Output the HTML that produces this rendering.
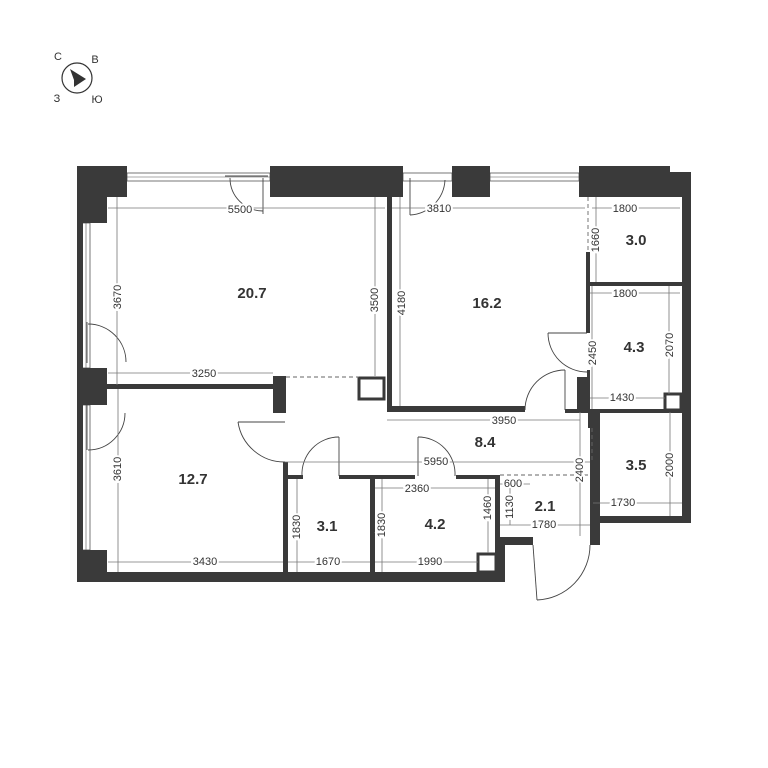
<!DOCTYPE html>
<html><head><meta charset="utf-8"><style>
html,body{margin:0;padding:0;background:#fff}
svg{display:block}
.w{fill:#3a3a3a}
.iw{fill:#3a3a3a}
.d{stroke:#777;stroke-width:0.8;fill:none}
.dl{font:11px "Liberation Sans",sans-serif;fill:#333;text-anchor:middle;dominant-baseline:middle}
.r{font:bold 15px "Liberation Sans",sans-serif;fill:#333;text-anchor:middle;dominant-baseline:middle}
.dr{stroke:#444;stroke-width:0.9;fill:none}
.win{stroke:#555;stroke-width:0.8;fill:#fff}
.da{stroke:#666;stroke-width:0.9;fill:none;stroke-dasharray:4 3}
</style></head><body>
<svg width="768" height="768" viewBox="0 0 768 768" xmlns="http://www.w3.org/2000/svg">
<!-- compass -->
<circle cx="77" cy="78" r="15" fill="none" stroke="#333" stroke-width="1.2"/>
<polygon points="70,69 86,79 74,87 74,80" fill="#333"/>
<text x="58" y="57" class="dl" style="font-size:11px">С</text>
<text x="95" y="60" class="dl">В</text>
<text x="57" y="99" class="dl">З</text>
<text x="97" y="100" class="dl">Ю</text>

<!-- windows -->
<rect x="127" y="173" width="143" height="8" class="win"/>
<line x1="127" y1="177" x2="270" y2="177" stroke="#555" stroke-width="0.6"/>
<rect x="403" y="173" width="49" height="8" class="win"/>
<rect x="490" y="173" width="89" height="8" class="win"/>
<line x1="490" y1="177" x2="579" y2="177" stroke="#555" stroke-width="0.6"/>
<rect x="82" y="223" width="8" height="145" class="win"/>
<line x1="86" y1="223" x2="86" y2="368" stroke="#555" stroke-width="0.6"/>
<rect x="82" y="405" width="8" height="145" class="win"/>
<line x1="86" y1="405" x2="86" y2="550" stroke="#555" stroke-width="0.6"/>

<!-- outer walls -->
<rect class="w" x="77" y="166" width="50" height="31"/>
<rect class="w" x="77" y="166" width="30" height="57"/>
<rect class="w" x="77" y="166" width="6" height="416"/>
<rect class="w" x="270" y="166" width="117" height="31"/>
<rect class="w" x="380" y="166" width="23" height="31"/>
<rect class="w" x="452" y="166" width="38" height="31"/>
<rect class="w" x="579" y="166" width="91" height="31"/>
<rect class="w" x="670" y="172" width="20" height="25"/>
<rect class="w" x="682" y="172" width="9" height="351"/>
<rect class="w" x="77" y="368" width="30" height="37"/>
<rect class="w" x="77" y="550" width="30" height="32"/>
<rect class="w" x="77" y="572" width="428" height="10"/>
<rect class="w" x="498" y="537" width="7" height="45"/>
<rect class="w" x="498" y="537" width="35" height="8"/>
<rect class="w" x="590" y="516" width="101" height="7"/>
<rect class="w" x="590" y="412" width="10" height="133"/>

<!-- interior walls -->
<rect class="iw" x="107" y="384" width="166" height="5"/>
<rect class="iw" x="273" y="376" width="13" height="37"/>
<rect fill="none" stroke="#3a3a3a" stroke-width="3" x="359" y="378" width="25" height="21"/>
<rect class="iw" x="387" y="197" width="5" height="215"/>
<rect class="iw" x="387" y="406" width="138" height="6"/>
<rect class="iw" x="586" y="252" width="4" height="81"/>
<line x1="588" y1="197" x2="588" y2="252" class="da"/>
<rect class="iw" x="577" y="377" width="10" height="35"/>
<rect class="iw" x="587" y="370" width="3" height="42"/>
<rect class="iw" x="588" y="282" width="94" height="4"/>
<rect class="iw" x="565" y="409" width="117" height="4"/>
<rect fill="none" stroke="#3a3a3a" stroke-width="3" x="665" y="394" width="16" height="16"/>
<line x1="592" y1="428" x2="592" y2="460" class="da"/>
<rect class="iw" x="588" y="412" width="4" height="16"/>
<line x1="286" y1="377" x2="359" y2="377" class="da"/>
<rect class="iw" x="283" y="462" width="5" height="112"/>
<rect class="iw" x="283" y="475" width="20" height="4"/>
<rect class="iw" x="339" y="475" width="76" height="4"/>
<rect class="iw" x="456" y="475" width="42" height="4"/>
<rect class="iw" x="370" y="475" width="5" height="99"/>
<rect class="iw" x="495" y="475" width="5" height="99"/>
<rect fill="none" stroke="#3a3a3a" stroke-width="3" x="478" y="554" width="18" height="18"/>
<line x1="500" y1="475" x2="590" y2="475" class="da"/>

<!-- doors -->
<line x1="225" y1="176" x2="268" y2="176" class="dr"/>
<line x1="263" y1="178" x2="263" y2="214" class="dr"/>
<path d="M230,178 A33,33 0 0 0 263,211" class="dr"/>
<line x1="410" y1="178" x2="410" y2="215" class="dr"/>
<path d="M410,215 A37,37 0 0 0 445,180" class="dr"/>
<line x1="87" y1="322" x2="87" y2="363" class="dr"/>
<path d="M88,324 A38,38 0 0 1 126,362" class="dr"/>
<line x1="87" y1="405" x2="87" y2="450" class="dr"/>
<path d="M125,413 A37,37 0 0 1 88,450" class="dr"/>
<line x1="548" y1="333" x2="587" y2="333" class="dr"/>
<path d="M548,333 A39,39 0 0 0 587,372" class="dr"/>
<line x1="565" y1="370" x2="565" y2="410" class="dr"/>
<path d="M525,410 A40,40 0 0 1 565,370" class="dr"/>
<line x1="238" y1="422" x2="285" y2="422" class="dr"/>
<path d="M238,422 A47,47 0 0 0 285,462" class="dr"/>
<line x1="339" y1="437" x2="339" y2="476" class="dr"/>
<path d="M339,437 A37,37 0 0 0 302,476" class="dr"/>
<line x1="418" y1="437" x2="418" y2="476" class="dr"/>
<path d="M418,437 A37,37 0 0 1 455,476" class="dr"/>
<line x1="533" y1="545" x2="537" y2="600" class="dr"/>
<path d="M537,600 A55,55 0 0 0 590,545" class="dr"/>

<!-- dimension lines -->
<g class="d">
<line x1="108" y1="208" x2="385" y2="208"/>
<line x1="117" y1="197" x2="117" y2="385"/>
<line x1="375" y1="197" x2="375" y2="376"/>
<line x1="108" y1="373" x2="273" y2="373"/>
<line x1="392" y1="208" x2="585" y2="208"/>
<line x1="400" y1="197" x2="400" y2="406"/>
<line x1="592" y1="208" x2="680" y2="208"/>
<line x1="596" y1="197" x2="596" y2="282"/>
<line x1="590" y1="293" x2="680" y2="293"/>
<line x1="669" y1="286" x2="669" y2="394"/>
<line x1="592" y1="286" x2="592" y2="409"/>
<line x1="590" y1="398" x2="665" y2="398"/>
<line x1="387" y1="420" x2="580" y2="420"/>
<line x1="285" y1="462" x2="590" y2="462"/>
<line x1="580" y1="412" x2="580" y2="536"/>
<line x1="670" y1="412" x2="670" y2="516"/>
<line x1="593" y1="503" x2="682" y2="503"/>
<line x1="375" y1="488" x2="495" y2="488"/>
<line x1="500" y1="484" x2="530" y2="484"/>
<line x1="510" y1="479" x2="510" y2="525"/>
<line x1="488" y1="479" x2="488" y2="553"/>
<line x1="500" y1="525" x2="590" y2="525"/>
<line x1="382" y1="479" x2="382" y2="572"/>
<line x1="297" y1="479" x2="297" y2="572"/>
<line x1="108" y1="562" x2="283" y2="562"/>
<line x1="288" y1="562" x2="370" y2="562"/>
<line x1="375" y1="562" x2="478" y2="562"/>
<line x1="118" y1="389" x2="118" y2="572"/>
</g>
<g class="dl">
<text x="240" y="210" style="paint-order:stroke;stroke:#fff;stroke-width:4">5500</text>
<text x="439" y="209" style="paint-order:stroke;stroke:#fff;stroke-width:4">3810</text>
<text x="625" y="209" style="paint-order:stroke;stroke:#fff;stroke-width:4">1800</text>
<text x="625" y="294" style="paint-order:stroke;stroke:#fff;stroke-width:4">1800</text>
<text x="204" y="374" style="paint-order:stroke;stroke:#fff;stroke-width:4">3250</text>
<text x="622" y="398" style="paint-order:stroke;stroke:#fff;stroke-width:4">1430</text>
<text x="504" y="421" style="paint-order:stroke;stroke:#fff;stroke-width:4">3950</text>
<text x="436" y="462" style="paint-order:stroke;stroke:#fff;stroke-width:4">5950</text>
<text x="623" y="503" style="paint-order:stroke;stroke:#fff;stroke-width:4">1730</text>
<text x="417" y="489" style="paint-order:stroke;stroke:#fff;stroke-width:4">2360</text>
<text x="513" y="484" style="paint-order:stroke;stroke:#fff;stroke-width:4">600</text>
<text x="544" y="525" style="paint-order:stroke;stroke:#fff;stroke-width:4">1780</text>
<text x="205" y="562" style="paint-order:stroke;stroke:#fff;stroke-width:4">3430</text>
<text x="328" y="562" style="paint-order:stroke;stroke:#fff;stroke-width:4">1670</text>
<text x="430" y="562" style="paint-order:stroke;stroke:#fff;stroke-width:4">1990</text>
<g style="paint-order:stroke;stroke:#fff;stroke-width:4">
<text transform="translate(118,297) rotate(-90)">3670</text>
<text transform="translate(375,300) rotate(-90)">3500</text>
<text transform="translate(402,303) rotate(-90)">4180</text>
<text transform="translate(596,240) rotate(-90)">1660</text>
<text transform="translate(670,345) rotate(-90)">2070</text>
<text transform="translate(593,353) rotate(-90)">2450</text>
<text transform="translate(580,470) rotate(-90)">2400</text>
<text transform="translate(670,465) rotate(-90)">2000</text>
<text transform="translate(510,507) rotate(-90)">1130</text>
<text transform="translate(488,508) rotate(-90)">1460</text>
<text transform="translate(382,525) rotate(-90)">1830</text>
<text transform="translate(297,527) rotate(-90)">1830</text>
<text transform="translate(118,469) rotate(-90)">3610</text>
</g>
</g>
<g class="r">
<text x="252" y="294">20.7</text>
<text x="487" y="304">16.2</text>
<text x="636" y="241">3.0</text>
<text x="634" y="348">4.3</text>
<text x="485" y="443">8.4</text>
<text x="636" y="466">3.5</text>
<text x="193" y="480">12.7</text>
<text x="327" y="527">3.1</text>
<text x="435" y="525">4.2</text>
<text x="545" y="507">2.1</text>
</g>
</svg>
</body></html>
